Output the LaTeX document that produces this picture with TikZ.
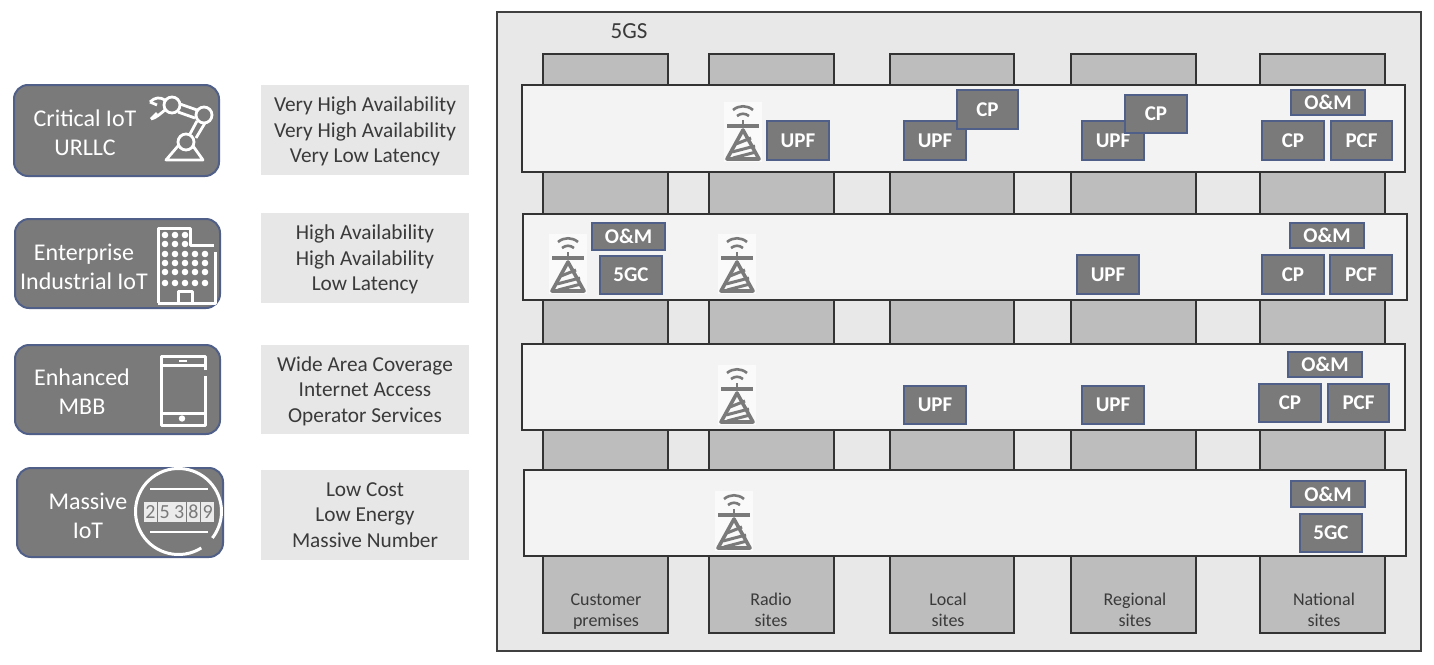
\documentclass[tikz,border=0pt]{standalone}
\usepackage{fontspec}
\setmainfont{Carlito}
\definecolor{boxgrey}{HTML}{7A7A7A}
\definecolor{edgeblue}{HTML}{4F5F88}
\definecolor{colgrey}{HTML}{BDBDBD}
\definecolor{outergrey}{HTML}{E8E8E8}
\definecolor{lanegrey}{HTML}{F3F3F3}
\definecolor{panelgrey}{HTML}{E7E7E7}
\definecolor{txtgrey}{HTML}{3A3A3A}
\newcommand{\fsz}[1]{\fontsize{#1}{#1}\selectfont}
\newcommand{\bx}[6]{\node[#6,minimum width=#4pt-#2pt,minimum height=#5pt-#3pt,anchor=north west] (#1) at (#2,#3) {};}
\newcommand{\fn}[7]{\node[fn,minimum width=#4pt-#2pt,minimum height=#5pt-#3pt,anchor=north west,font=\fsz{#7}\bfseries] (#1) at (#2,#3) {#6};}
\tikzset{
 x=1pt,y=-1pt,
 outerbox/.style={draw=black!75,fill=outergrey,line width=1.2pt,inner sep=0,outer sep=0},
 colbox/.style={draw=black!80,fill=colgrey,line width=1.2pt,inner sep=0,outer sep=0},
 lane/.style={draw=black!80,fill=lanegrey,line width=1.2pt,inner sep=0,outer sep=0},
 panel/.style={fill=panelgrey,inner sep=0,outer sep=0},
 fn/.style={draw=edgeblue,fill=boxgrey,line width=1.8pt,text=white,inner sep=0,outer sep=0},
 svc/.style={draw=edgeblue,fill=boxgrey,line width=2pt,rounded corners=14pt,inner sep=0,outer sep=0},
 svctxt/.style={text=white,align=center,font=\fsz{24},inner sep=0},
 paneltxt/.style={text=txtgrey,align=center,font=\fsz{21.3},inner sep=0},
 sitetxt/.style={text=txtgrey,align=center,font=\fsz{18},inner sep=0},
 icon/.style={draw=white,line width=2.8pt,line join=round},
 twr/.style={draw=boxgrey,line width=3pt,line join=round},
 tower/.pic={
  \fill[white!98!black] (-19,0) rectangle (19,60);
  \draw[twr,line width=2.6pt] (-10,8) .. controls (-4,3) and (4,3) .. (10,8);
  \draw[twr,line width=2.6pt] (-6,14) .. controls (-2,11) and (2,11) .. (6,14);
  \draw[twr,line width=4pt] (-16,24) -- (16,24);
  \draw[twr,line width=2.4pt] (0,18) -- (0,24);
  \draw[twr,line width=3.6pt] (0,28) -- (-16,57) -- (16,57) -- cycle;
  \draw[twr] (-7,42) -- (8,36) (-11,50) -- (12,44) (-10,56) -- (13,50);
 }
}
\begin{document}
\begin{tikzpicture}
\useasboundingbox (0,0) rectangle (1434,664);
\fill[white] (0,0) rectangle (1434,664);
% outer
\bx{outer}{497}{12}{1421}{651}{outerbox}
\node[font=\fsz{23},text=txtgrey,inner sep=0] (title) at (629,31) {5GS};
% columns
\bx{c1}{543}{54}{668}{633}{colbox}
\bx{c2}{709}{54}{834}{633}{colbox}
\bx{c3}{890}{54}{1014}{633}{colbox}
\bx{c4}{1071}{54}{1196}{633}{colbox}
\bx{c5}{1260}{54}{1385}{633}{colbox}
% lanes
\bx{l1}{522}{85}{1405}{172}{lane}
\bx{l2}{523}{214}{1407}{300}{lane}
\bx{l3}{522}{344}{1405}{430}{lane}
\bx{l4}{524}{470}{1406}{556}{lane}
% site labels
\node[sitetxt] (s1) at (606,612) {Customer\\[3pt]premises};
\node[sitetxt] (s2) at (771,610) {Radio\\[3pt]sites};
\node[sitetxt] (s3) at (948,610) {Local\\[3pt]sites};
\node[sitetxt] (s4) at (1135,610) {Regional\\[3pt]sites};
\node[sitetxt] (s5) at (1324,610) {National\\[3pt]sites};
% towers
\pic at (743,102) {tower};
\pic at (568,234) {tower};
\pic at (737,234) {tower};
\pic at (737,365) {tower};
\pic at (734,491) {tower};
% lane 1
\fn{a1}{767}{121}{829}{160}{UPF}{21}
\fn{a2}{904}{121}{966}{160}{UPF}{21}
\fn{a3}{957}{90}{1018}{129}{CP}{21}
\fn{a4}{1082}{121}{1144}{160}{UPF}{21}
\fn{a5}{1125}{95}{1187}{133}{CP}{21}
\fn{a6}{1291}{90}{1365}{115}{O\&M}{21}
\fn{a7}{1262}{121}{1324}{160}{CP}{21}
\fn{a8}{1331}{121}{1392}{160}{PCF}{21}
% lane 2
\fn{b1}{592}{223}{665}{250}{O\&M}{21}
\fn{b2}{600}{256}{662}{294}{5GC}{21}
\fn{b3}{1077}{255}{1139}{294}{UPF}{21}
\fn{b4}{1290}{223}{1364}{248}{O\&M}{21}
\fn{b5}{1262}{255}{1324}{294}{CP}{21}
\fn{b6}{1330}{255}{1392}{294}{PCF}{21}
% lane 3
\fn{d1}{904}{386}{966}{424}{UPF}{21}
\fn{d2}{1082}{386}{1144}{424}{UPF}{21}
\fn{d3}{1288}{352}{1362}{377}{O\&M}{21}
\fn{d4}{1259}{384}{1321}{422}{CP}{21}
\fn{d5}{1328}{384}{1389}{422}{PCF}{21}
% lane 4
\fn{e1}{1291}{481}{1365}{507}{O\&M}{21}
\fn{e2}{1300}{514}{1362}{552}{5GC}{21}
% panels
\bx{p1}{261}{85}{469}{175}{panel}
\bx{p2}{261}{213}{469}{303}{panel}
\bx{p3}{261}{345}{469}{434}{panel}
\bx{p4}{261}{470}{469}{560}{panel}
\node[paneltxt] (pt1) at (365,131.5) {Very High Availability\\[4.2pt]Very High Availability\\[4.2pt]Very Low Latency};
\node[paneltxt] (pt2) at (365,259.5) {High Availability\\[4.2pt]High Availability\\[4.2pt]Low Latency};
\node[paneltxt] (pt3) at (365,391) {Wide Area Coverage\\[4.2pt]Internet Access\\[4.2pt]Operator Services};
\node[paneltxt] (pt4) at (365,515) {Low Cost\\[4.2pt]Low Energy\\[4.2pt]Massive Number};
% service boxes
\bx{v1}{14}{85}{219}{176}{svc}
\bx{v2}{15}{219}{220}{308}{svc}
\bx{v3}{15}{345}{220}{434}{svc}
\bx{v4}{17}{468}{223}{557}{svc}
\node[svctxt] (vt1) at (85,133) {Critical IoT\\[5pt]URLLC};
\node[svctxt] (vt2) at (84,267) {Enterprise\\[5pt]Industrial IoT};
\node[svctxt] (vt3) at (82,392) {Enhanced\\[5pt]MBB};
\node[svctxt] (vt4) at (88,516) {Massive\\[5pt]IoT};
% robot arm
\draw[icon] (166,160) -- (203,160) -- (193,146) -- (178,146) -- cycle;
\draw[icon,fill=boxgrey] (186,142) circle (8);
\draw[icon] (190,134) -- (197,121) (196,138) -- (205,123);
\draw[icon,fill=boxgrey] (204,115) circle (8);
\draw[icon] (180,104) -- (197,110) (178,112) -- (195,118);
\draw[icon,fill=boxgrey] (172,105) circle (8);
\draw[icon] (165,100) .. controls (160,97) and (155,97) .. (150,102) (165,110) .. controls (160,114) and (156,118) .. (151,119);
\draw[icon] (150,102) -- (157,105) (151,119) -- (157,113);
% building
\draw[icon,line width=3pt] (158,303) -- (158,228) -- (190,228) -- (190,245) -- (214,245);
\draw[icon,line width=3pt] (215,252) -- (215,303) -- (158,303);
\draw[icon,line width=3pt] (178,303) -- (178,291) -- (192,291) -- (192,303);
\foreach \gi in {0,1,2} \foreach \gr in {235,244} \fill[white] (165+\gi*10,\gr) circle (3.3);
\foreach \gi in {0,...,4} \foreach \gr in {254,263,272,283} \fill[white] (165+\gi*10,\gr) circle (3.3);
% phone
\draw[icon,line width=3pt] (205,370) -- (205,356.5) -- (161,356.5) -- (161,425.5) -- (205,425.5) -- (205,376);
\draw[icon,line width=3pt] (161,365) -- (205,365) (161,413) -- (205,413);
\draw[white,line width=2.5pt] (179,361) -- (187,361);
\fill[white] (182,418.5) circle (3.2);
% meter
\draw[icon,line width=3pt] (178.5,511.5) ++(58:43) arc (58:398:43);
\draw[icon] (150,489) -- (208,489) (150,532) -- (208,532);
\foreach \gk/\gd in {0/2,1/5,2/3,3/8,4/9}{
 \node[fill=white!85!boxgrey,text=boxgrey,font=\fsz{20},minimum width=13.5pt,minimum height=20pt,inner sep=0] (m\gk) at (150.5+\gk*14.3,512) {\gd};
}
\end{tikzpicture}
\end{document}
